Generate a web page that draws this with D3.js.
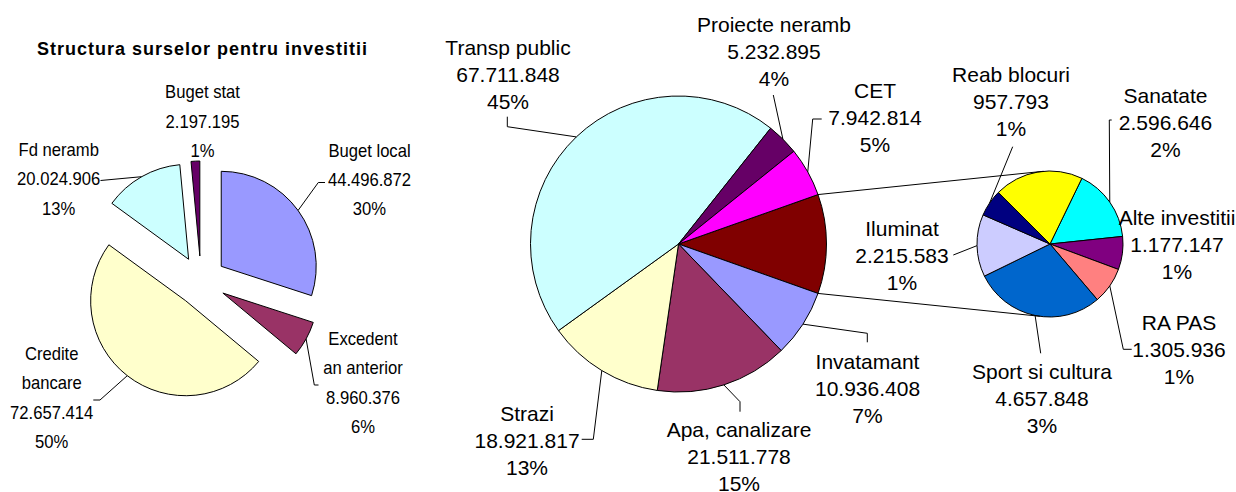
<!DOCTYPE html>
<html><head><meta charset="utf-8">
<script src="https://cdn.jsdelivr.net/npm/d3@7"></script>
<style>html,body{margin:0;padding:0;background:#fff;} svg{display:block;}</style>
</head><body>
<svg id="chart" width="1236" height="492"></svg>
<script>
// ---------------- data ----------------
const chartTitle = "Structura surselor pentru investitii";

const sourceCategories = ["Buget local", "Excedent an anterior", "Credite bancare", "Fd neramb", "Buget stat"];
const sourceValues     = [44496872, 8960376, 72657414, 20024906, 2197195];
const sourcePercents   = ["30%", "6%", "50%", "13%", "1%"];

const mainCategories = ["Invatamant", "Apa, canalizare", "Strazi", "Transp public", "Proiecte neramb", "CET"];
const mainValues     = [10936408, 21511778, 18921817, 67711848, 5232895, 7942814];
const mainPercents   = ["7%", "15%", "13%", "45%", "4%", "5%"];

// second (detail) pie of the pie-of-pie; last slice has no label in the original
const detailCategories = ["Sanatate", "Alte investitii", "RA PAS", "Sport si cultura", "Iluminat", "Reab blocuri", ""];
const detailValues     = [2596646, 1177147, 1305936, 4657848, 2215583, 957793, 3168250];
const detailPercents   = ["2%", "1%", "1%", "3%", "1%", "1%", ""];

// ---------------- styles ----------------
const sourceColors = ["#9999FF", "#993366", "#FFFFCC", "#CCFFFF", "#660066"];
const mainColors   = ["#9999FF", "#993366", "#FFFFCC", "#CCFFFF", "#660066", "#FF00FF"];
const otherColor   = "#800000";
const detailColors = ["#00FFFF", "#800080", "#FF8080", "#0066CC", "#CCCCFF", "#000080", "#FFFF00"];
const FONT = "'Liberation Sans', Arial, Helvetica, sans-serif";

// ---------------- layout ----------------
const L = {cx: 201, cy: 281, r: 95, explode: 25};
const M = {cx: 678.5, cy: 244, r: 148};
const D = {cx: 1050, cy: 244, r: 73, start: 25.9};
const connectorAngles = {top: -5, bottom: 188};

const leftLabelLayout = [
  {x: 369.5, y: 156.5, wrap: false, leader: [[325, 182.5], [318.3, 182.5]]},
  {x: 363,   y: 345,   wrap: true,  leader: [[318.5, 385], [314.3, 385]]},
  {x: 51.7,  y: 360,   wrap: true,  leader: [[93.3, 400], [100, 400]]},
  {x: 58.7,  y: 156,   wrap: false, leader: [[100.5, 180.5]]},
  {x: 202.5, y: 98.3,  wrap: false, leader: null}
];
const mainLabelLayout = [
  {x: 867.5, y: 368.5, leader: [[867.3, 342.3], [867.3, 333.3]]},
  {x: 739,   y: 437,   leader: [[740, 411.7], [740, 401.7]]},
  {x: 527,   y: 420.5, leader: [[581.7, 439.3], [593.3, 439.3]]},
  {x: 508,   y: 55,    leader: [[507.3, 116.7], [507.3, 126.7]]},
  {x: 774,   y: 31.5,  leader: [[773.3, 95]]},
  {x: 875,   y: 97.5,  leader: [[821.7, 119], [812.7, 119]]}
];
const detailLabelLayout = [
  {x: 1165.5, y: 102.5, leader: [[1111.7, 120], [1109.3, 120]]},
  {x: 1177,   y: 225,   leader: null},
  {x: 1179,   y: 330,   leader: [[1131.7, 349.3], [1123.3, 349.3]]},
  {x: 1042,   y: 378.5, leader: [[1040.7, 353.3]]},
  {x: 902,    y: 236,   leader: [[953.3, 255]]},
  {x: 1011,   y: 82,    leader: [[1012.7, 146.7]]},
  null
];

// ---------------- helpers ----------------
const fmt = d3.formatLocale({decimal: ",", thousands: ".", grouping: [3], currency: ["", ""]}).format(",d");
const deg = Math.PI / 180;
const polar = (cx, cy, r, a) => [cx + r * Math.sin(a), cy - r * Math.cos(a)];
const svg = d3.select("#chart");
const gPies = svg.append("g");
const gLines = svg.append("g").attr("fill", "none").attr("stroke", "#000").attr("stroke-width", 1);
const gText = svg.append("g").attr("font-family", FONT).attr("fill", "#000").attr("text-anchor", "middle");
const line = d3.line();

function drawLabel(lines, x, y, size, step, sx = 1) {
  const t = gText.append("text").attr("font-size", size)
    .attr("transform", `translate(${x},${y}) scale(${sx},1)`);
  lines.forEach((s, i) => t.append("tspan").attr("x", 0).attr("y", i * step).text(s));
}

// ---------------- title ----------------
gText.append("text")
  .attr("x", 202).attr("y", 55)
  .attr("font-size", 18).attr("font-weight", "bold")
  .attr("textLength", 330).attr("lengthAdjust", "spacing")
  .text(chartTitle);

// ---------------- left exploded pie ----------------
const leftArcs = d3.pie().sort(null).startAngle(0).endAngle(2 * Math.PI)(sourceValues);
const arcL = d3.arc().innerRadius(0).outerRadius(L.r);
leftArcs.forEach((a, i) => {
  const mid = (a.startAngle + a.endAngle) / 2;
  const [ox, oy] = polar(L.cx, L.cy, L.explode, mid);
  gPies.append("path")
    .attr("transform", `translate(${ox},${oy})`)
    .attr("d", arcL(a))
    .attr("fill", sourceColors[i]).attr("stroke", "#000").attr("stroke-width", 1);
  const lay = leftLabelLayout[i];
  if (lay.leader) {
    const anchor = polar(ox, oy, L.r, mid);
    gLines.append("path").attr("d", line([...lay.leader, anchor]));
  }
  const name = sourceCategories[i];
  const nameLines = lay.wrap ? [name.slice(0, name.indexOf(" ")), name.slice(name.indexOf(" ") + 1)] : [name];
  drawLabel([...nameLines, fmt(sourceValues[i]), sourcePercents[i]], lay.x, lay.y, 17.7, 29.5, 0.94);
});

// ---------------- main pie (with aggregated "other" slice) ----------------
const otherValue = d3.sum(detailValues);
const total = d3.sum(mainValues) + otherValue;
const otherSpan = otherValue / total * 2 * Math.PI;
const start = Math.PI / 2 - otherSpan / 2;
const mainArcs = d3.pie().sort(null).startAngle(start).endAngle(start + 2 * Math.PI)([otherValue, ...mainValues]);
const arcM = d3.arc().innerRadius(0).outerRadius(M.r);
mainArcs.forEach((a, k) => {
  gPies.append("path")
    .attr("transform", `translate(${M.cx},${M.cy})`)
    .attr("d", arcM(a))
    .attr("fill", k === 0 ? otherColor : mainColors[k - 1])
    .attr("stroke", "#000").attr("stroke-width", 1);
  if (k === 0) return;
  const i = k - 1, lay = mainLabelLayout[i];
  const mid = (a.startAngle + a.endAngle) / 2;
  gLines.append("path").attr("d", line([...lay.leader, polar(M.cx, M.cy, M.r, mid)]));
  drawLabel([mainCategories[i], fmt(mainValues[i]), mainPercents[i]], lay.x, lay.y, 21, 27);
});

// ---------------- detail pie ----------------
const dStart = D.start * deg;
const detailArcs = d3.pie().sort(null).startAngle(dStart).endAngle(dStart + 2 * Math.PI)(detailValues);
const arcD = d3.arc().innerRadius(0).outerRadius(D.r);
detailArcs.forEach((a, i) => {
  gPies.append("path")
    .attr("transform", `translate(${D.cx},${D.cy})`)
    .attr("d", arcD(a))
    .attr("fill", detailColors[i]).attr("stroke", "#000").attr("stroke-width", 1);
  const lay = detailLabelLayout[i];
  if (!lay) return;
  const mid = (a.startAngle + a.endAngle) / 2;
  if (lay.leader) gLines.append("path").attr("d", line([...lay.leader, polar(D.cx, D.cy, D.r, mid)]));
  drawLabel([detailCategories[i], fmt(detailValues[i]), detailPercents[i]], lay.x, lay.y, 21, 27);
});

// ---------------- connector lines between the pies ----------------
const oArc = mainArcs[0];
gLines.append("path").attr("d", line([polar(M.cx, M.cy, M.r, oArc.startAngle), polar(D.cx, D.cy, D.r, connectorAngles.top * deg)]));
gLines.append("path").attr("d", line([polar(M.cx, M.cy, M.r, oArc.endAngle), polar(D.cx, D.cy, D.r, connectorAngles.bottom * deg)]));
</script>
</body></html>
